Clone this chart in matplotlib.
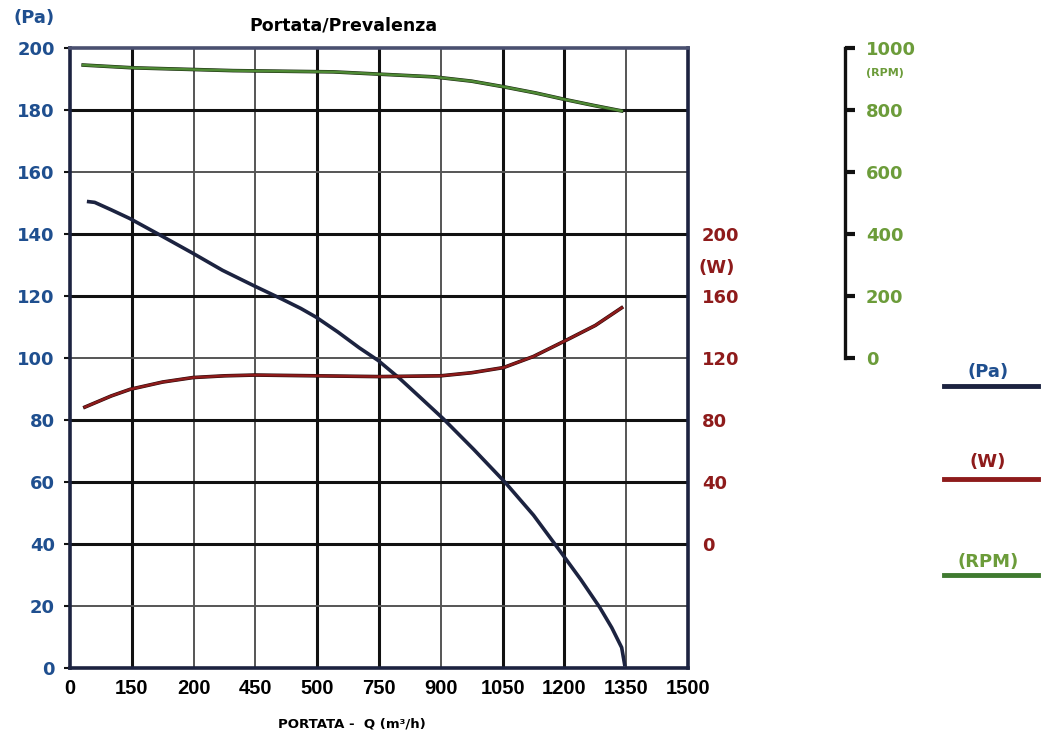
import matplotlib.pyplot as plt
from matplotlib.lines import Line2D

# Portata (m3/h) e valori
q_pa = [41, 60, 100, 145, 218, 298, 370, 448, 516, 560, 597, 650, 702, 748, 801,
        850, 906, 980, 1056, 1125, 1189, 1240, 1286, 1315, 1339, 1347]
pa = [150.5, 150.2, 147.8, 145.0, 139.7, 133.8, 128.3, 123.2, 118.9, 116.0, 113.2,
      108.4, 103.3, 99.2, 93.3, 87.3, 80.4, 70.5, 59.9, 49.3, 37.8, 28.5, 19.5,
      13.0, 6.6, 0.5]

q_w = [36, 100, 146, 225, 299, 375, 449, 600, 750, 900, 975, 1052, 1125, 1201, 1275, 1339]
watt = [88.3, 95.5, 99.8, 104.5, 107.4, 108.5, 109.0, 108.5, 108.0, 108.5, 110.5,
        113.8, 121.0, 131.0, 141.0, 152.4]

q_rpm = [32, 154, 396, 639, 882, 975, 1052, 1130, 1201, 1270, 1339]
rpm = [945, 936, 927, 923, 907, 893, 875, 855, 834, 815, 797]

x_ticks = [0, 150, 300, 450, 600, 750, 900, 1050, 1200, 1350, 1500]
x_labels = ["0", "150", "200", "450", "500", "750", "900", "1050", "1200", "1350", "1500"]
pa_ticks = list(range(0, 201, 20))
w_ticks = [0, 40, 80, 120, 160, 200]
rpm_ticks = [0, 200, 400, 600, 800, 1000]

BLUE = "#1f4f8f"
NAVY = "#1c2340"
RED = "#8e1b1b"
GREEN = "#6c9c3a"
LGREEN = "#4f8a35"

fig = plt.figure(figsize=(10.48, 7.38), dpi=100)
W, H = 1048, 738
ax = fig.add_axes([70 / W, (H - 668) / H, 618 / W, 620 / H])
ax.set_xlim(0, 1500)
ax.set_ylim(0, 200)

# griglia con spessori diversi come nell'originale
v_thick = [True, False, False, True, True, False, True, True, False]
for xv, thick in zip(x_ticks[1:-1], v_thick):
    ax.axvline(xv, color="#111111" if thick else "#555555", lw=2.2 if thick else 1.4, zorder=1)
h_thick = [False, True, True, True, False, True, True, False, True]
for yv, thick in zip(pa_ticks[1:-1], h_thick):
    ax.axhline(yv, color="#111111" if thick else "#555555", lw=2.2 if thick else 1.4, zorder=1)

for s in ax.spines.values():
    s.set_color(NAVY)
    s.set_linewidth(2.6)
ax.spines["top"].set_color("#4a5070")

ax.set_xticks(x_ticks)
ax.set_xticklabels(x_labels, fontweight="bold", fontsize=14.5, family="Liberation Sans")
ax.set_yticks(pa_ticks)
ax.set_yticklabels([str(v) for v in pa_ticks], fontweight="bold", fontsize=13, color=BLUE)
ax.tick_params(axis="x", length=0, pad=8)
ax.tick_params(axis="y", length=4, width=1.5, color="#111111", pad=7)

ax.plot(q_pa, pa, color=NAVY, lw=2.6, solid_capstyle="butt", zorder=3)

# asse potenza (W)
ax_w = ax.twinx()
ax_w.set_ylim(-80, 320)
ax_w.set_yticks(w_ticks)
ax_w.set_yticklabels([str(v) for v in w_ticks], fontweight="bold", fontsize=13, color=RED)
ax_w.tick_params(axis="y", length=0, pad=10)
for s in ax_w.spines.values():
    s.set_visible(False)
ax_w.plot(q_w, watt, color="#2a0a0a", lw=2.6, zorder=3)
ax_w.plot(q_w, watt, color=RED, lw=1.8, zorder=4)
ax_w.annotate("(W)", xy=(1, 178), xycoords=("axes fraction", "data"), xytext=(7.5, 0),
              textcoords="offset points", va="center", ha="left",
              fontweight="bold", fontsize=13, color=RED)

# asse giri (RPM)
ax_r = ax.twinx()
ax_r.set_ylim(-1000, 1000)
for name in ["left", "top", "bottom"]:
    ax_r.spines[name].set_visible(False)
ax_r.spines["right"].set_position(("axes", (845 - 70) / 618))
ax_r.spines["right"].set_bounds(0, 1000)
ax_r.spines["right"].set_color("#111111")
ax_r.spines["right"].set_linewidth(2.4)
ax_r.set_yticks(rpm_ticks)
ax_r.set_yticklabels([str(v) for v in rpm_ticks], fontweight="bold", fontsize=13, color=GREEN)
ax_r.tick_params(axis="y", length=7, width=3, color="#111111", pad=8)
ax_r.plot(q_rpm, rpm, color="#1a2a10", lw=2.6, zorder=3)
ax_r.plot(q_rpm, rpm, color=LGREEN, lw=1.8, zorder=4)
ax_r.annotate("(RPM)", xy=((845 - 70) / 618, 920), xycoords=("axes fraction", "data"),
              xytext=(15, 0), textcoords="offset points", va="center", ha="left",
              fontweight="bold", fontsize=8, color=GREEN)

# testi
fig.text(343 / W, 1 - 25 / H, "Portata/Prevalenza", ha="center", va="center",
         fontweight="bold", fontsize=12.5, color="black")
fig.text(34 / W, 1 - 18 / H, "(Pa)", ha="center", va="center",
         fontweight="bold", fontsize=13, color=BLUE)
fig.text(352 / W, 1 - 724 / H, "PORTATA -  Q (m³/h)", ha="center", va="center",
         fontweight="bold", fontsize=9.5, color="black")

# legenda laterale
legend_items = [("(Pa)", BLUE, NAVY, 372, 386),
                ("(W)", RED, RED, 462, 479),
                ("(RPM)", GREEN, "#3f7a30", 562, 575)]
for label, tcol, lcol, ty, ly in legend_items:
    fig.text(988 / W, 1 - ty / H, label, ha="center", va="center",
             fontweight="bold", fontsize=13, color=tcol)
    fig.add_artist(Line2D([944 / W, 1038 / W], [1 - ly / H, 1 - ly / H],
                          transform=fig.transFigure, color=lcol, lw=3.5))

fig.savefig("out.png", dpi=100)
